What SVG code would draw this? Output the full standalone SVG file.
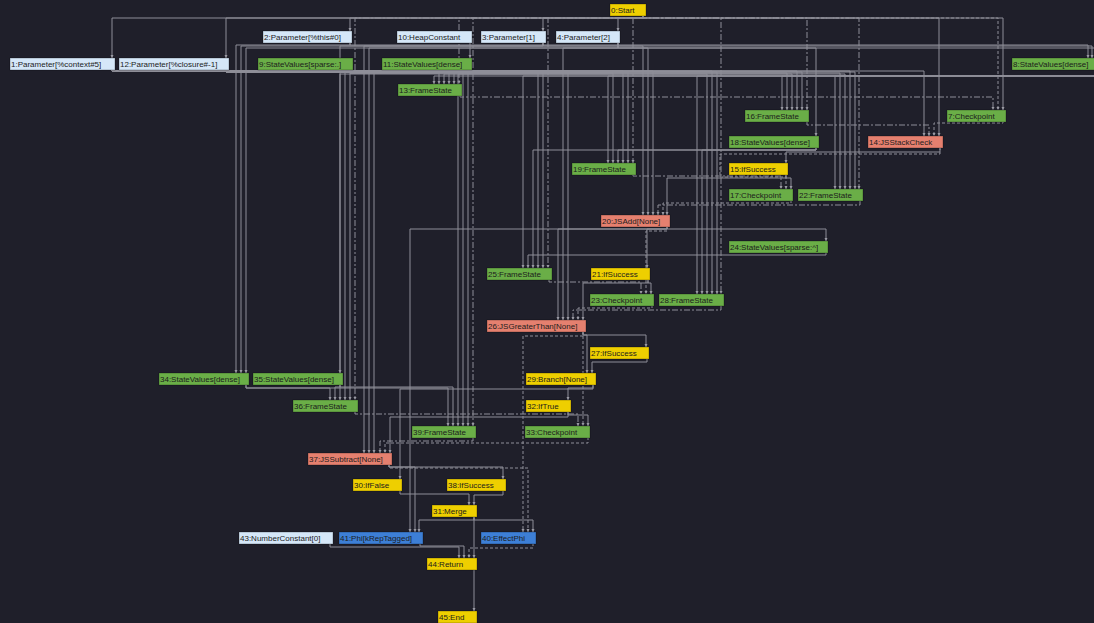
<svg xmlns="http://www.w3.org/2000/svg" width="1094" height="623" viewBox="0 0 1094 623">
<defs>
<marker id="arr" viewBox="0 0 10 10" refX="10" refY="5" markerWidth="3.5" markerHeight="3.5" orient="auto" markerUnits="userSpaceOnUse">
<path d="M0,0 L10,5 L0,10 z" fill="#9a9aa4"/>
</marker>
</defs>
<style>
.bg{fill:#1f1f2a}
#edges path{fill:none;stroke:#8e8e98;stroke-width:1;marker-end:url(#arr)}
#edges path.e{stroke-dasharray:3,2}
#edges path.f{stroke-dasharray:6,2,2,2}
.node rect{stroke:#000;stroke-opacity:0.35;stroke-width:0.8}
.node text{font-family:"Liberation Sans",Arial,sans-serif;font-size:8px;fill:#1c1c1c}
.y rect{fill:#eecf00}
.g rect{fill:#6aae47}
.s rect{fill:#e5806f}
.lb rect{fill:#d5e7f8}
.b rect{fill:#3d7fd6}
</style>
<rect class="bg" x="0" y="0" width="1094" height="623"/>
<g id="edges">
<path class="c" d="M643 16V18H112V58"/>
<path class="c" d="M643 16V18H226V58"/>
<path class="c" d="M643 16V18H350V31"/>
<path class="c" d="M643 16V18H543V31"/>
<path class="c" d="M643 16V18H618V31"/>
<path class="e" d="M643 16V18H998V110"/>
<path class="c" d="M643 16V18H1003V110"/>
<path class="c" d="M643 16V18H939V136"/>
<path class="f" d="M643 16V18H459V84"/>
<path class="f" d="M643 16V18H807V110"/>
<path class="f" d="M643 16V18H633V163"/>
<path class="f" d="M643 16V18H859V189"/>
<path class="f" d="M643 16V18H548V268"/>
<path class="f" d="M643 16V18H721V294"/>
<path class="f" d="M643 16V18H355V400"/>
<path class="f" d="M643 16V18H473V426"/>
<path d="M470 42V58"/>
<path d="M350 42V45H1088V58"/>
<path d="M350 42V45H236V373"/>
<path d="M543 42V46H1092V58"/>
<path d="M543 42V46H241V373"/>
<path d="M543 42V46H643V215"/>
<path d="M543 42V46H364V453"/>
<path d="M543 42V46H340V373"/>
<path d="M618 42V48H1097V58"/>
<path d="M618 42V48H246V373"/>
<path d="M618 42V48H648V215"/>
<path d="M618 42V48H563V320"/>
<path d="M618 42V48H369V453"/>
<path d="M618 42V48H816V136"/>
<path d="M112 69V71H449V84"/>
<path d="M112 69V71H797V110"/>
<path d="M112 69V71H850V189"/>
<path d="M112 69V71H623V163"/>
<path d="M112 69V71H924V136"/>
<path d="M112 69V71H653V215"/>
<path d="M112 69V71H538V268"/>
<path d="M112 69V71H712V294"/>
<path d="M112 69V71H568V320"/>
<path d="M112 69V71H345V400"/>
<path d="M112 69V71H463V426"/>
<path d="M112 69V71H374V453"/>
<path d="M226 69V72H454V84"/>
<path d="M226 69V72H802V110"/>
<path d="M226 69V72H855V189"/>
<path d="M226 69V72H628V163"/>
<path d="M226 69V72H543V268"/>
<path d="M226 69V72H717V294"/>
<path d="M226 69V72H350V400"/>
<path d="M226 69V72H468V426"/>
<path d="M350 69V73H439V84"/>
<path d="M350 69V73H787V110"/>
<path d="M350 69V73H840V189"/>
<path d="M350 69V73H613V163"/>
<path d="M470 69V74H444V84"/>
<path d="M470 69V74H792V110"/>
<path d="M470 69V74H845V189"/>
<path d="M470 69V74H707V294"/>
<path d="M470 69V74H340V400"/>
<path d="M470 69V74H458V426"/>
<path d="M1099 69V76H434V84"/>
<path d="M1099 69V76H782V110"/>
<path d="M1099 69V76H835V189"/>
<path d="M1099 69V76H608V163"/>
<path d="M1099 69V76H523V268"/>
<path d="M1099 69V76H697V294"/>
<path class="f" d="M460 95V97H993V110"/>
<path class="f" d="M807 121V125H929V136"/>
<path class="e" d="M1003 121V123H934V136"/>
<path d="M816 147V150H618V163"/>
<path d="M816 147V150H702V294"/>
<path d="M816 147V150H533V268"/>
<path class="c" d="M940 147V152H786V163"/>
<path class="e" d="M940 147V154H720V177H786V189"/>
<path class="c" d="M786 174V178H791V189"/>
<path class="c" d="M786 174V178H667V215"/>
<path class="f" d="M633 174V176H781V189"/>
<path class="e" d="M791 200V203H663V215"/>
<path class="f" d="M860 200V205H658V215"/>
<path d="M667 226V229H826V241"/>
<path class="c" d="M667 226V229H647V268"/>
<path d="M667 226V229H558V320"/>
<path d="M667 226V229H410V532"/>
<path class="e" d="M667 226V231H646V294"/>
<path d="M826 252V255H528V268"/>
<path class="f" d="M549 279V282H641V294"/>
<path class="c" d="M648 279V283H651V294"/>
<path class="c" d="M648 279V283H583V320"/>
<path class="e" d="M652 305V308H578V320"/>
<path class="f" d="M721 305V310H573V320"/>
<path class="c" d="M583 331V335H646V347"/>
<path d="M583 331V335H587V373"/>
<path class="e" d="M583 331V426"/>
<path class="e" d="M583 331V336H523V532"/>
<path class="c" d="M647 358V362H592V373"/>
<path class="c" d="M593 384V388H568V400"/>
<path class="c" d="M593 384V389H400V479"/>
<path d="M246 384V388H330V400"/>
<path d="M246 384V388H448V426"/>
<path d="M340 384V387H335V400"/>
<path d="M340 384V387H453V426"/>
<path class="f" d="M355 411V414H578V426"/>
<path class="c" d="M568 411V415H588V426"/>
<path class="c" d="M568 411V417H390V453"/>
<path class="f" d="M473 437V441H380V453"/>
<path class="e" d="M588 437V443H385V453"/>
<path class="c" d="M389 464V467H503V479"/>
<path d="M389 464V467H415V532"/>
<path class="e" d="M389 464V468H528V532"/>
<path class="c" d="M400 490V494H469V505"/>
<path class="c" d="M503 490V495H474V505"/>
<path class="c" d="M474 516V520H419V532"/>
<path class="c" d="M474 516V520H533V532"/>
<path class="c" d="M474 516V558"/>
<path d="M330 543V547H459V558"/>
<path d="M420 543V546H464V558"/>
<path class="e" d="M533 543V548H469V558"/>
<path class="c" d="M474 569V611"/>
</g>
<g id="node-0" class="node y"><rect x="610" y="4" width="36" height="12"/><text x="611" y="13">0:Start</text></g>
<g id="node-2" class="node lb"><rect x="263" y="31" width="89" height="12"/><text x="264" y="40">2:Parameter[%this#0]</text></g>
<g id="node-10" class="node lb"><rect x="397" y="31" width="75" height="12"/><text x="398" y="40">10:HeapConstant</text></g>
<g id="node-3" class="node lb"><rect x="481" y="31" width="65" height="12"/><text x="482" y="40">3:Parameter[1]</text></g>
<g id="node-4" class="node lb"><rect x="556" y="31" width="64" height="12"/><text x="557" y="40">4:Parameter[2]</text></g>
<g id="node-1" class="node lb"><rect x="10" y="58" width="105" height="12"/><text x="11" y="67">1:Parameter[%context#5]</text></g>
<g id="node-12" class="node lb"><rect x="119" y="58" width="110" height="12"/><text x="120" y="67">12:Parameter[%closure#-1]</text></g>
<g id="node-9" class="node g"><rect x="258" y="58" width="95" height="12"/><text x="259" y="67">9:StateValues[sparse:.]</text></g>
<g id="node-11" class="node g"><rect x="382" y="58" width="90" height="12"/><text x="383" y="67">11:StateValues[dense]</text></g>
<g id="node-8" class="node g"><rect x="1012" y="58" width="90" height="12"/><text x="1013" y="67">8:StateValues[dense]</text></g>
<g id="node-13" class="node g"><rect x="398" y="84" width="64" height="12"/><text x="399" y="93">13:FrameState</text></g>
<g id="node-16" class="node g"><rect x="745" y="110" width="64" height="12"/><text x="746" y="119">16:FrameState</text></g>
<g id="node-7" class="node g"><rect x="947" y="110" width="59" height="12"/><text x="948" y="119">7:Checkpoint</text></g>
<g id="node-18" class="node g"><rect x="729" y="136" width="90" height="12"/><text x="730" y="145">18:StateValues[dense]</text></g>
<g id="node-14" class="node s"><rect x="868" y="136" width="75" height="12"/><text x="869" y="145">14:JSStackCheck</text></g>
<g id="node-19" class="node g"><rect x="572" y="163" width="64" height="12"/><text x="573" y="172">19:FrameState</text></g>
<g id="node-15" class="node y"><rect x="729" y="163" width="59" height="12"/><text x="730" y="172">15:IfSuccess</text></g>
<g id="node-17" class="node g"><rect x="729" y="189" width="64" height="12"/><text x="730" y="198">17:Checkpoint</text></g>
<g id="node-22" class="node g"><rect x="798" y="189" width="65" height="12"/><text x="799" y="198">22:FrameState</text></g>
<g id="node-20" class="node s"><rect x="601" y="215" width="69" height="12"/><text x="602" y="224">20:JSAdd[None]</text></g>
<g id="node-24" class="node g"><rect x="729" y="241" width="99" height="12"/><text x="730" y="250">24:StateValues[sparse:^]</text></g>
<g id="node-25" class="node g"><rect x="487" y="268" width="65" height="12"/><text x="488" y="277">25:FrameState</text></g>
<g id="node-21" class="node y"><rect x="591" y="268" width="59" height="12"/><text x="592" y="277">21:IfSuccess</text></g>
<g id="node-23" class="node g"><rect x="590" y="294" width="64" height="12"/><text x="591" y="303">23:Checkpoint</text></g>
<g id="node-28" class="node g"><rect x="659" y="294" width="65" height="12"/><text x="660" y="303">28:FrameState</text></g>
<g id="node-26" class="node s"><rect x="487" y="320" width="99" height="12"/><text x="488" y="329">26:JSGreaterThan[None]</text></g>
<g id="node-27" class="node y"><rect x="590" y="347" width="59" height="12"/><text x="591" y="356">27:IfSuccess</text></g>
<g id="node-29" class="node y"><rect x="526" y="373" width="70" height="12"/><text x="527" y="382">29:Branch[None]</text></g>
<g id="node-34" class="node g"><rect x="159" y="373" width="90" height="12"/><text x="160" y="382">34:StateValues[dense]</text></g>
<g id="node-35" class="node g"><rect x="253" y="373" width="90" height="12"/><text x="254" y="382">35:StateValues[dense]</text></g>
<g id="node-36" class="node g"><rect x="293" y="400" width="65" height="12"/><text x="294" y="409">36:FrameState</text></g>
<g id="node-32" class="node y"><rect x="526" y="400" width="45" height="12"/><text x="527" y="409">32:IfTrue</text></g>
<g id="node-39" class="node g"><rect x="412" y="426" width="64" height="12"/><text x="413" y="435">39:FrameState</text></g>
<g id="node-33" class="node g"><rect x="525" y="426" width="65" height="12"/><text x="526" y="435">33:Checkpoint</text></g>
<g id="node-37" class="node s"><rect x="308" y="453" width="84" height="12"/><text x="309" y="462">37:JSSubtract[None]</text></g>
<g id="node-30" class="node y"><rect x="353" y="479" width="49" height="12"/><text x="354" y="488">30:IfFalse</text></g>
<g id="node-38" class="node y"><rect x="447" y="479" width="59" height="12"/><text x="448" y="488">38:IfSuccess</text></g>
<g id="node-31" class="node y"><rect x="432" y="505" width="45" height="12"/><text x="433" y="514">31:Merge</text></g>
<g id="node-43" class="node lb"><rect x="239" y="532" width="94" height="12"/><text x="240" y="541">43:NumberConstant[0]</text></g>
<g id="node-41" class="node b"><rect x="339" y="532" width="84" height="12"/><text x="340" y="541">41:Phi[kRepTagged]</text></g>
<g id="node-40" class="node b"><rect x="481" y="532" width="55" height="12"/><text x="482" y="541">40:EffectPhi</text></g>
<g id="node-44" class="node y"><rect x="427" y="558" width="50" height="12"/><text x="428" y="567">44:Return</text></g>
<g id="node-45" class="node y"><rect x="438" y="611" width="39" height="12"/><text x="439" y="620">45:End</text></g>
</svg>
